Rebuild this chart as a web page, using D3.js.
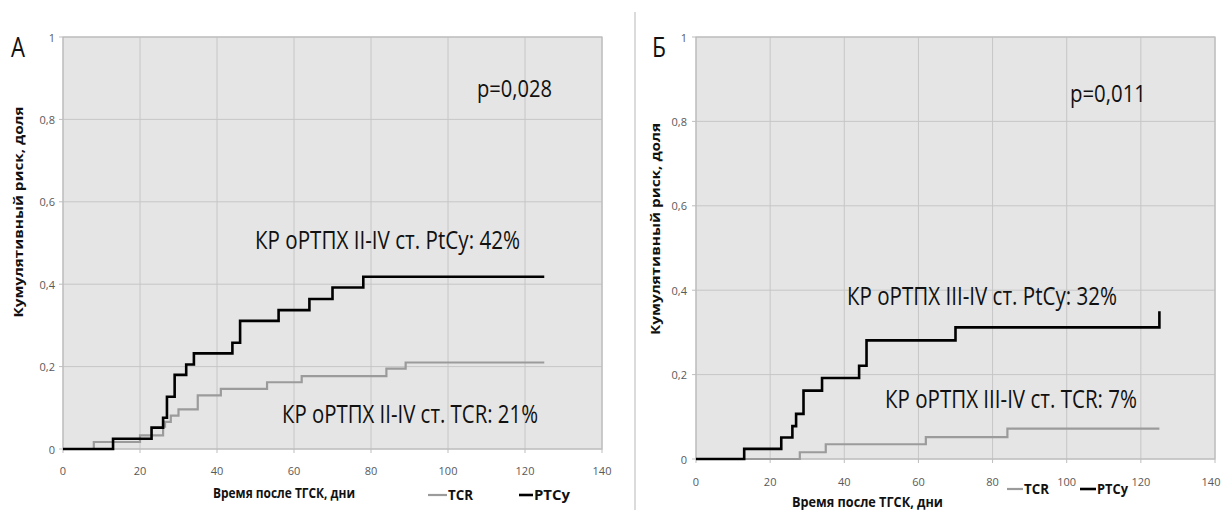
<!DOCTYPE html>
<html lang="ru">
<head>
<meta charset="UTF-8">
<title>Кумулятивный риск оРТПХ</title>
<style>
  body { margin: 0; background: #fff; }
  #chart { display: block; }
  .tick-label { font-family: "Open Sans", "Liberation Sans", sans-serif; font-size: 11px; fill: #595959; }
  .note { font-family: "Open Sans", "Liberation Sans", sans-serif; fill: #111; }
  .title { font-family: "Open Sans", "DejaVu Sans", sans-serif; font-weight: bold; fill: #111; }
</style>
</head>
<body>
<svg id="chart"></svg>
<script src="https://d3js.org/d3.v7.min.js"></script>
<script>
// axis ticks
const xTicks = [0, 20, 40, 60, 80, 100, 120, 140];
const yTicks = [0, 0.2, 0.4, 0.6, 0.8, 1];
const yTickLabels = ["0", "0,2", "0,4", "0,6", "0,8", "1"];

// texts
const panelLetters = ["А", "Б"];
const pValues = ["p=0,028", "p=0,011"];
const ptcyNotes = ["КР оРТПХ II-IV ст. PtCy: 42%", "КР оРТПХ III-IV ст. PtCy: 32%"];
const tcrNotes = ["КР оРТПХ II-IV ст. TCR: 21%", "КР оРТПХ III-IV ст. TCR: 7%"];
const seriesNames = ["TCR", "PTCy"];
const xTitle = "Время после ТГСК, дни";
const yTitle = "Кумулятивный риск, доля";

// panel A (grade II-IV), step curves
const daysA_TCR = [0, 8, 20, 26, 26.5, 28, 30, 35, 41, 53, 62, 84, 89, 125];
const riskA_TCR = [0, 0.017, 0.033, 0.054, 0.066, 0.081, 0.096, 0.13, 0.146, 0.162, 0.177, 0.195, 0.21, 0.21];
const daysA_PTCy = [0, 13, 23, 26, 27, 29, 32, 34, 44, 46, 56, 64, 70, 78, 125];
const riskA_PTCy = [0, 0.025, 0.052, 0.076, 0.127, 0.18, 0.205, 0.232, 0.258, 0.311, 0.337, 0.364, 0.392, 0.418, 0.418];

// panel B (grade III-IV)
const daysB_TCR = [0, 28, 35, 62, 84, 125];
const riskB_TCR = [0, 0.016, 0.035, 0.052, 0.072, 0.072];
const daysB_PTCy = [0, 13, 23, 26, 27, 29, 34, 44, 46, 70, 125, 125];
const riskB_PTCy = [0, 0.024, 0.051, 0.078, 0.107, 0.162, 0.192, 0.221, 0.281, 0.312, 0.312, 0.35];

const W = 1222, H = 510;
const svg = d3.select("#chart").attr("width", W).attr("height", H);

// layout of the two panels
const panels = [
  {
    left: 63, right: 602, top: 37, bottom: 449, tickY: 470, yLabelX: 55,
    letter: [11, 57], p: [477, 97, 75],
    ptcyNote: [255, 249, 265], tcrNote: [282, 423, 256],
    yTitlePos: [18, 212, 211], xTitlePos: [213, 498, 142],
    legend: { y: 495, tcr: [428, 447], ptcy: [519, 533], tcrW: 25, ptcyW: 36 },
    tcr: [daysA_TCR, riskA_TCR], ptcy: [daysA_PTCy, riskA_PTCy]
  },
  {
    left: 696, right: 1215, top: 37, bottom: 459, tickY: 481, yLabelX: 687,
    letter: [652, 57], p: [1070, 102, 76],
    ptcyNote: [847, 305, 270], tcrNote: [885, 408, 252],
    yTitlePos: [655, 229, 212], xTitlePos: [792, 507, 151],
    legend: { y: 489, tcr: [1007, 1023], ptcy: [1080, 1096], tcrW: 25, ptcyW: 31 },
    tcr: [daysB_TCR, riskB_TCR], ptcy: [daysB_PTCy, riskB_PTCy]
  }
];

// separator between panels
svg.append("line")
  .attr("x1", 635).attr("x2", 635).attr("y1", 12).attr("y2", H)
  .attr("stroke", "#cfcfcf").attr("stroke-width", 1.5);

panels.forEach((p, i) => {
  const x = d3.scaleLinear().domain([0, 140]).range([p.left, p.right]);
  const y = d3.scaleLinear().domain([0, 1]).range([p.bottom, p.top]);
  const g = svg.append("g");

  // plot background
  g.append("rect")
    .attr("x", p.left).attr("y", p.top)
    .attr("width", p.right - p.left).attr("height", p.bottom - p.top)
    .attr("fill", "#e5e5e5");

  // gridlines
  g.selectAll(".vgrid").data(xTicks).enter().append("line")
    .attr("x1", d => x(d)).attr("x2", d => x(d))
    .attr("y1", p.top).attr("y2", p.bottom)
    .attr("stroke", "#c6c6c6").attr("stroke-width", 1);
  g.selectAll(".hgrid").data(yTicks).enter().append("line")
    .attr("x1", p.left).attr("x2", p.right)
    .attr("y1", d => y(d)).attr("y2", d => y(d))
    .attr("stroke", "#c6c6c6").attr("stroke-width", 1);

  g.append("rect")
    .attr("x", p.left).attr("y", p.top)
    .attr("width", p.right - p.left).attr("height", p.bottom - p.top)
    .attr("fill", "none").attr("stroke", "#bdbdbd").attr("stroke-width", 1.2);

  // small tick marks
  g.selectAll(".ytk").data(yTicks).enter().append("line")
    .attr("x1", p.left - 4).attr("x2", p.left)
    .attr("y1", d => y(d)).attr("y2", d => y(d))
    .attr("stroke", "#bdbdbd");
  g.selectAll(".xtk").data(xTicks).enter().append("line")
    .attr("x1", d => x(d)).attr("x2", d => x(d))
    .attr("y1", p.bottom).attr("y2", p.bottom + 4)
    .attr("stroke", "#bdbdbd");

  // tick labels (keep the last one inside the page)
  g.selectAll(".xl").data(xTicks).enter().append("text")
    .attr("class", "tick-label")
    .attr("x", d => Math.min(x(d), W - 11)).attr("y", p.tickY)
    .attr("text-anchor", "middle").attr("dominant-baseline", "central")
    .text(d => d);
  g.selectAll(".yl").data(yTicks).enter().append("text")
    .attr("class", "tick-label")
    .attr("x", p.yLabelX).attr("y", d => y(d))
    .attr("text-anchor", "end").attr("dominant-baseline", "central")
    .text((d, j) => yTickLabels[j]);

  // step curves
  const line = d3.line()
    .x(d => x(d[0])).y(d => y(d[1]))
    .curve(d3.curveStepAfter);
  g.append("path")
    .datum(d3.zip(p.tcr[0], p.tcr[1]))
    .attr("d", line)
    .attr("fill", "none").attr("stroke", "#9b9b9b").attr("stroke-width", 2.2);
  g.append("path")
    .datum(d3.zip(p.ptcy[0], p.ptcy[1]))
    .attr("d", line)
    .attr("fill", "none").attr("stroke", "#000").attr("stroke-width", 2.6);

  // texts
  g.append("text").attr("class", "note")
    .attr("x", p.letter[0]).attr("y", p.letter[1])
    .attr("font-size", 27).attr("textLength", 14).attr("lengthAdjust", "spacingAndGlyphs")
    .text(panelLetters[i]);
  g.append("text").attr("class", "note")
    .attr("x", p.p[0]).attr("y", p.p[1])
    .attr("font-size", 23).attr("textLength", p.p[2]).attr("lengthAdjust", "spacingAndGlyphs")
    .text(pValues[i]);
  g.append("text").attr("class", "note")
    .attr("x", p.ptcyNote[0]).attr("y", p.ptcyNote[1])
    .attr("font-size", 25).attr("textLength", p.ptcyNote[2]).attr("lengthAdjust", "spacingAndGlyphs")
    .text(ptcyNotes[i]);
  g.append("text").attr("class", "note")
    .attr("x", p.tcrNote[0]).attr("y", p.tcrNote[1])
    .attr("font-size", 25).attr("textLength", p.tcrNote[2]).attr("lengthAdjust", "spacingAndGlyphs")
    .text(tcrNotes[i]);

  // axis titles
  g.append("text").attr("class", "title")
    .attr("transform", `translate(${p.yTitlePos[0]},${p.yTitlePos[1]}) rotate(-90)`)
    .attr("text-anchor", "middle").attr("dominant-baseline", "central")
    .attr("font-size", 12).attr("textLength", p.yTitlePos[2]).attr("lengthAdjust", "spacingAndGlyphs")
    .text(yTitle);
  g.append("text").attr("class", "title")
    .attr("x", p.xTitlePos[0]).attr("y", p.xTitlePos[1])
    .attr("font-size", 14).attr("textLength", p.xTitlePos[2]).attr("lengthAdjust", "spacingAndGlyphs")
    .text(xTitle);

  // legend
  const lg = p.legend;
  g.append("line")
    .attr("x1", lg.tcr[0]).attr("x2", lg.tcr[1]).attr("y1", lg.y).attr("y2", lg.y)
    .attr("stroke", "#9b9b9b").attr("stroke-width", 2.2);
  g.append("text").attr("class", "title")
    .attr("x", lg.tcr[1] + 1).attr("y", lg.y + 5)
    .attr("font-size", 15).attr("textLength", lg.tcrW).attr("lengthAdjust", "spacingAndGlyphs")
    .text(seriesNames[0]);
  g.append("line")
    .attr("x1", lg.ptcy[0]).attr("x2", lg.ptcy[1]).attr("y1", lg.y).attr("y2", lg.y)
    .attr("stroke", "#000").attr("stroke-width", 2.6);
  g.append("text").attr("class", "title")
    .attr("x", lg.ptcy[1] + 1).attr("y", lg.y + 5)
    .attr("font-size", 15).attr("textLength", lg.ptcyW).attr("lengthAdjust", "spacingAndGlyphs")
    .text(seriesNames[1]);
});
</script>
</body>
</html>
